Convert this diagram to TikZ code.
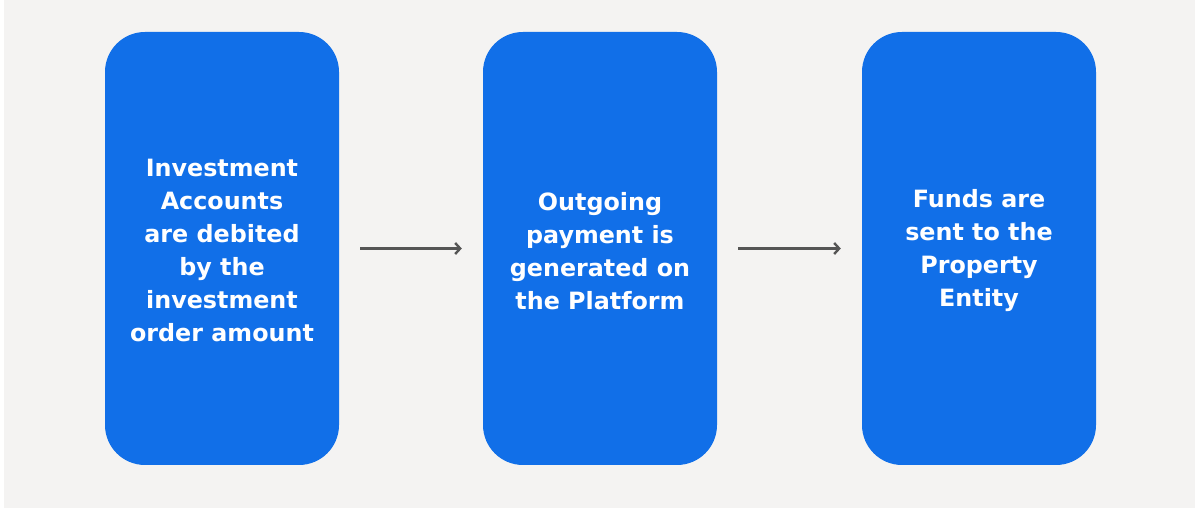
\documentclass[tikz,border=0pt]{standalone}
\usepackage{fontspec}
\setmainfont{DejaVu Sans}
\usetikzlibrary{arrows.meta}
\definecolor{bg}{HTML}{F4F3F2}
\definecolor{boxblue}{HTML}{116FE8}
\definecolor{arrowgray}{HTML}{555555}
\tikzset{
  x=1pt, y=1pt,
  stepbox/.style={fill=boxblue, draw=none, rounded corners=40pt,
    minimum width=234pt, minimum height=433pt, inner sep=0pt,
    text=white, align=center,
    font=\fontsize{23.8pt}{33pt}\selectfont\bfseries},
  flow/.style={draw=arrowgray, line width=2.2pt,
    -{Straight Barb[length=5pt, width=11pt, line width=2.4pt]},
    shorten <=21pt, shorten >=21pt}
}
\begin{document}
\begin{tikzpicture}
\useasboundingbox (0,0) rectangle (1195,508);
\fill[white] (0,0) rectangle (1195,508);
\fill[bg] (4,0) rectangle (1195,508);
\node[stepbox] (b1) at (222,259.5) {};
\node[stepbox] (b2) at (600,259.5) {};
\node[stepbox] (b3) at (979,259.5) {};
\node[stepbox, fill=none, minimum height=0pt] (t1) at (222,258) {Investment\\Accounts\\are debited\\by the\\investment\\order amount};
\node[stepbox, fill=none, minimum height=0pt] (t2) at (600,257) {Outgoing\\payment is\\generated on\\the Platform};
\node[stepbox, fill=none, minimum height=0pt] (t3) at (979,257) {Funds are\\sent to the\\Property\\Entity};
\draw[flow] (b1.east) -- (b2.west);
\draw[flow] (b2.east) -- (b3.west);
\end{tikzpicture}
\end{document}
